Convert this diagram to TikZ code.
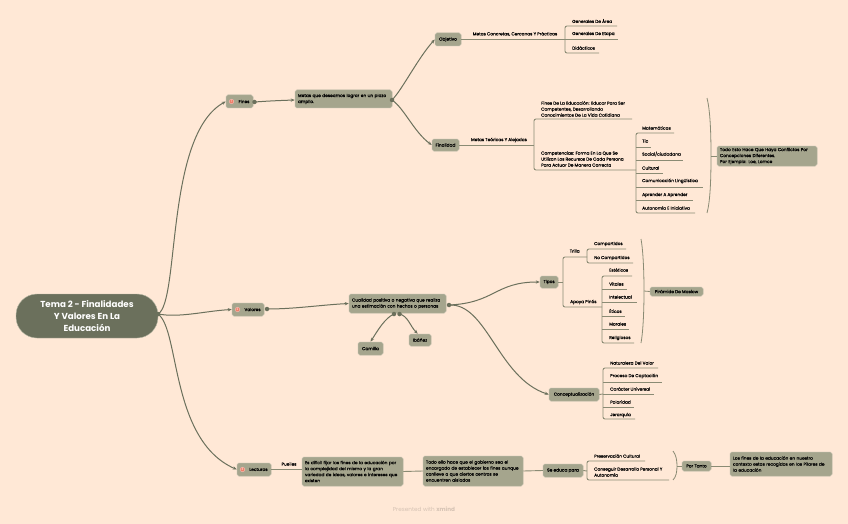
\documentclass[tikz,border=0pt]{standalone}
\usepackage{fontspec}
\setmainfont{Poppins}
\newfontfamily\medf{Poppins}[FakeBold=0.18]
\usetikzlibrary{arrows.meta}
\definecolor{bgc}{HTML}{FFE8D6}
\definecolor{boxc}{HTML}{A5A58D}
\definecolor{boxl}{HTML}{B7B7A4}
\definecolor{rootc}{HTML}{6B705C}
\definecolor{brc}{HTML}{8A8B74}
\definecolor{iconc}{HTML}{F0806A}
\tikzset{
  base/.style={font=\medf\fontsize{4.3}{6}\selectfont,text=black,inner sep=0pt,align=left},
  tbox/.style={base,fill=boxc,draw=boxl,line width=.5pt,rounded corners=1.8pt,minimum height=#1},
  tbox/.default=12pt,
  lab/.style={base,anchor=west},
  clab/.style={base,anchor=center},
  curv/.style={draw=rootc,line width=1pt,-{Stealth[length=4pt,width=3.2pt]}},
  lin/.style={draw=brc,line width=.9pt},
  cur/.style={draw=brc,line width=.8pt},
  dotn/.style={circle,fill=rootc,inner sep=0pt,minimum size=4.5pt},
  icon/.style={circle,fill=iconc,draw=white!50!iconc,line width=.4pt,inner sep=0pt,minimum size=4.6pt,text=white,font=\fontsize{3}{3}\selectfont},
}
% #1 id, #2 spine x, #3 y, #4 end x, #5 text x, #6 text y, #7 text
\newcommand{\leafrow}[7]{%
  \coordinate (#1s) at (#2,#3);
  \coordinate (#1e) at (#4,#3);
  \node[lab] (#1) at (#5,#6) {#7};
}
\newcommand{\midrow}[1]{\draw[lin] (#1s) -- (#1e);}
\newcommand{\spine}[2]{\draw[lin,rounded corners=2pt] (#1e) -- (#1s) -- (#2s) -- (#2e);}
\begin{document}
\begin{tikzpicture}[x=1pt,y=-1pt]
\useasboundingbox (0,0) rectangle (848,524);
\fill[bgc] (0,0) rectangle (848,524);

% main nodes
\node[fill=rootc,draw=boxl,line width=.4pt,rounded corners=21pt,minimum width=142pt,minimum height=44pt,inner sep=0pt,align=center,text=white,font=\fontsize{8.7}{12.2}\selectfont\bfseries] (root) at (87,316) {Tema 2 - Finalidades\\Y Valores En La\\Educación};
\node[tbox,minimum width=27pt,minimum height=13pt] (fines) at (239.5,101.5) {\hspace{9pt}Fines};
\node[tbox,minimum width=32pt,minimum height=13pt] (valores) at (248,309.5) {\hspace{9pt}Valores};
\node[tbox,minimum width=34pt,minimum height=13pt] (lecturas) at (254,469.5) {\hspace{9pt}Lecturas};
\node[icon] (ifines) at (231.5,101.5) {1};
\node[icon] (ivalores) at (237.5,309.5) {2};
\node[icon] (ilecturas) at (242.5,469.5) {3};

\node[tbox,minimum width=97pt,minimum height=18pt,text width=91pt,align=left] (metas) at (343.5,99) {Metas que deseamos lograr en un plazo\\amplio.};
\node[tbox,minimum width=26pt,minimum height=13pt] (objetivo) at (448,39.5) {Objetivo};
\node[tbox,minimum width=27pt,minimum height=12pt] (finalidad) at (445.5,145) {Finalidad};
\node[tbox,minimum width=97pt,minimum height=19pt,text width=91pt] (cualidad) at (397.5,303.5) {Cualidad positiva o negativa que realiza\\una estimación con hechos o personas};
\node[tbox,minimum width=25pt,minimum height=13pt] (camilla) at (370.5,348.5) {Camilla};
\node[tbox,minimum width=22pt,minimum height=12pt] (ibanez) at (420,340) {Ibáñez};
\node[tbox,minimum width=18pt,minimum height=12pt] (tipos) at (549,282) {Tipos};
\node[tbox,minimum width=50pt,minimum height=13pt] (concep) at (574,394.5) {Conceptualización};
\node[tbox,minimum width=100pt,minimum height=20pt,text width=94pt] (todo) at (767,156) {Todo Esto Hace Que Haya Conflictos Por\\Concepciones Diferentes.\\Por Ejemplo: Loe, Lomce};
\node[tbox,minimum width=53pt,minimum height=9pt] (piramide) at (676.5,291.5) {Pirámide De Maslow};
\node[tbox,minimum width=101pt,minimum height=29pt,text width=95pt] (dificil) at (352.5,471.5) {Es difícil fijar los fines de la educación por\\la complejidad del mismo y la gran\\variedad de ideas, valores e intereses que\\existen};
\node[tbox,minimum width=100pt,minimum height=30pt,text width=94pt] (todoello) at (473,471) {Todo ello hace que el gobierno sea el\\encargado de establecer los fines aunque\\conlleve a que ciertos centros se\\encuentren aislados};
\node[tbox,minimum width=40pt,minimum height=13pt] (seeduca) at (563,470.5) {Se educa para};
\node[tbox,minimum width=29pt,minimum height=10pt] (portanto) at (696.5,466) {Por Tanto};
\node[tbox,minimum width=102pt,minimum height=24pt,text width=96pt] (losfines) at (781,464) {Los fines de la educación en nuestro\\contexto  estas recogidos en los Pilares de\\la educación};

% dots
\node[dotn] (drootd) at (158,314) {};
\node[dotn] (dfines) at (254.5,102) {};
\node[dotn] (dvalores) at (267,309) {};
\node[dotn] (dmetas) at (392,100) {};
\node[dotn] (dcual) at (449,305) {};
\node[dotn] (dcam) at (394,314) {};
\node[dotn] (dib) at (399.5,314) {};

% curved connectors
\path[curv] (drootd.center) .. controls (180,302) and (165,135) .. (fines.west);
\path[curv] (drootd.center) .. controls (180,318) and (205,311) .. (valores.west);
\path[curv] (drootd.center) .. controls (180,330) and (170,440) .. (lecturas.west);
\path[curv] (dfines.center) .. controls (268,101) and (280,100.5) .. (metas.west|-dmetas);
\path[curv] (dvalores.center) .. controls (295,309) and (320,305) .. (cualidad.west);
\path[curv] (dmetas.center) .. controls (402,90) and (418,58) .. (objetivo.west);
\path[curv] (dmetas.center) .. controls (404,108) and (414,132) .. (finalidad.west);
\path[curv] (dcual.center) .. controls (495,303) and (495,282) .. (tipos.west);
\path[curv] (dcual.center) .. controls (487,303) and (498,378) .. (concep.west);
\path[curv] (dcam.center) .. controls (385,318) and (378,330) .. (camilla.north);
\path[curv] (dib.center) .. controls (408,316) and (410,326) .. (ibanez.110);

% Objetivo branch
\node[clab] (lobj) at (515,34) {Metas Concretas, Cercanas Y Prácticas};
\node[clab] (lfin) at (499,140) {Metas Teóricas Y Alejadas};
\leafrow{a1}{565}{26}{617}{572}{21}{Generales De Área}
\leafrow{a2}{565}{39.5}{618}{572}{34}{Generales De Etapa}
\leafrow{a3}{565}{53}{599}{572}{48}{Didácticos}
\spine{a1}{a3}\midrow{a2}
\draw[lin] (objetivo.east) -- (a2s);

% Finalidad branch
\coordinate (f0s) at (534,145);
\leafrow{f1}{534}{119}{632}{541}{109}{Fines De La Educación: Educar Para Ser\\Competentes, Desarrollando\\Conocimientos De La Vida Cotidiana}
\leafrow{f2}{534}{170}{636}{541}{159}{Competencias: Forma En La Que Se\\Utilizan Los Recursos De Cada Persona\\Para Actuar De Manera Correcta}
\spine{f1}{f2}
\draw[lin] (finalidad.east) -- (f0s);
\leafrow{c1}{636}{133}{674}{642}{128}{Matemáticas}
\leafrow{c2}{636}{147}{651}{642}{141}{Tic}
\leafrow{c3}{636}{160}{683}{642}{154}{Social/ciudadana}
\leafrow{c4}{636}{173}{663}{642}{168}{Cultural}
\leafrow{c5}{636}{187}{703}{642}{181}{Comunicación Lingüística}
\leafrow{c6}{636}{200}{693}{642}{195}{Aprender A Aprender}
\leafrow{c7}{636}{213}{695}{642}{208}{Autonomía E Iniciativa}
\spine{c1}{c7}\midrow{c2}\midrow{c3}\midrow{c4}\midrow{c5}\midrow{c6}
\coordinate (k1a) at (707,98);\coordinate (k1m) at (711,156);\coordinate (k1b) at (707,213);
\draw[cur] (k1a) .. controls (710,110) and (711,130) .. (k1m) .. controls (711,182) and (710,202) .. (k1b);
\draw[cur] (k1m) -- (todo.west);

% Tipos branch
\coordinate (t0s) at (563,282);
\coordinate (t1s) at (563,257);\coordinate (t1e) at (587,257);
\coordinate (t2s) at (563,307);\coordinate (t2e) at (602,307);
\spine{t1}{t2}
\draw[lin] (tipos.east) -- (t0s);
\node[lab] (trilla) at (569.5,251) {Trilla};
\node[lab] (apoya) at (570,302) {Apoya Pinós};
\leafrow{u1}{587}{249}{626}{594}{244}{Compartidos}
\leafrow{u2}{587}{263}{633}{594}{258}{No Compartidos}
\spine{u1}{u2}
\leafrow{v1}{602}{276}{632}{609}{270}{Estéticos}
\leafrow{v2}{602}{289}{627}{609}{284}{Vitales}
\leafrow{v3}{602}{302}{637}{609}{297}{Intelectual}
\leafrow{v4}{602}{316}{625}{609}{311}{Éticos}
\leafrow{v5}{602}{329}{629}{609}{324}{Morales}
\leafrow{v6}{602}{343}{634}{609}{338}{Religiosos}
\spine{v1}{v6}\midrow{v2}\midrow{v3}\midrow{v4}\midrow{v5}
\coordinate (k2a) at (641,239);\coordinate (k2m) at (644,291);\coordinate (k2b) at (641,343);
\draw[cur] (k2a) .. controls (643,250) and (644,270) .. (k2m) .. controls (644,312) and (643,332) .. (k2b);
\draw[cur] (k2m) -- (piramide.west);

% Conceptualizacion
\leafrow{w1}{603}{368}{658}{610}{363}{Naturaleza Del Valor}
\leafrow{w2}{603}{382}{662}{610}{376}{Proceso De Captación}
\leafrow{w3}{603}{394}{654}{610}{389}{Carácter Universal}
\leafrow{w4}{603}{407}{634}{610}{402}{Polaridad}
\leafrow{w5}{603}{419}{635}{610}{415}{Jerarquía}
\spine{w1}{w5}\midrow{w2}\midrow{w3}\midrow{w4}
\draw[lin] (concep.east) -- (w3s);

% Lecturas
\draw[lin] (lecturas.east) -- (dificil.west|-lecturas);
\node[clab] (pueiles) at (289,464) {Pueiles};
\draw[lin] (dificil.east) -- (todoello.west);
\draw[lin] (todoello.east) -- (seeduca.west);
\coordinate (x0s) at (587,471);
\leafrow{x1}{587}{461}{645}{594}{456}{Preservación Cultural}
\leafrow{x2}{587}{480}{669}{594}{472}{Conseguir Desarrollo Personal Y\\Autonomía}
\spine{x1}{x2}
\draw[lin] (seeduca.east) -- (x0s);
\coordinate (k3a) at (673,451);\coordinate (k3m) at (677,466);\coordinate (k3b) at (673,480);
\draw[cur] (k3a) .. controls (676,455) and (677,460) .. (k3m) .. controls (677,472) and (676,477) .. (k3b);
\draw[cur] (k3m) -- (portanto.west);
\draw[lin] (portanto.east) -- (losfines.west|-portanto);

\node[anchor=center,inner sep=0pt,text=black!16!bgc,font=\fontsize{5.7}{6}\selectfont] (xm) at (424,509) {Presented with \textbf{xmind}};
\end{tikzpicture}
\end{document}
